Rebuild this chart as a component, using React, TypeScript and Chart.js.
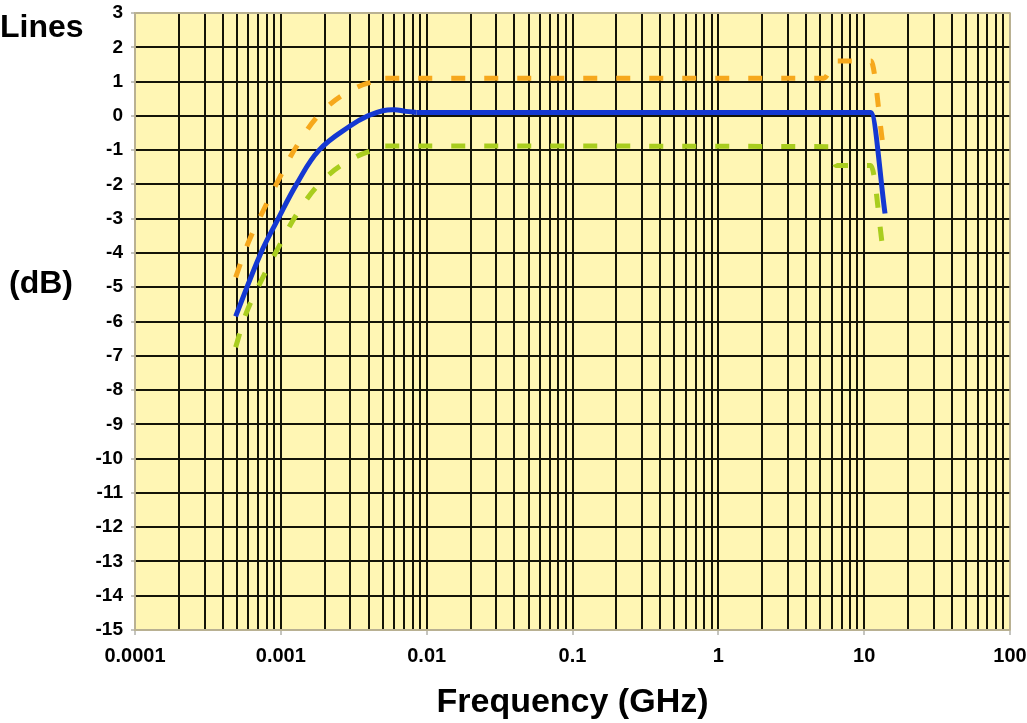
import { useEffect, useRef } from 'react';
import { Chart, registerables } from 'chart.js';

Chart.register(...registerables);

const FONT = "Arial, 'Liberation Sans', Helvetica, sans-serif";

// Frequency axis: decades carry labels, every 1..9 multiple gets a grid line
const decades = [0.0001, 0.001, 0.01, 0.1, 1, 10, 100];
const decadeLabels = ['0.0001', '0.001', '0.01', '0.1', '1', '10', '100'];
const minorSteps = [1, 2, 3, 4, 5, 6, 7, 8, 9];

// Level axis (dB)
const yMin = -15;
const yMax = 3;
const yStep = 1;

// Nominal response (solid blue)
const nominalFreq = [0.00049, 0.00073, 0.00096, 0.00128, 0.00183, 0.003, 0.00396, 0.005, 0.006, 0.0072, 0.0085, 11.1, 13.9];
const nominalDb = [-5.85, -4.0, -3.0, -2.0, -1.0, -0.29, 0.0, 0.15, 0.18, 0.13, 0.1, 0.1, -2.85];
const nominalArcEnd = 10;

// Upper limit (orange dashed)
const upperFreq = [0.00049, 0.00059, 0.000757, 0.00098, 0.0013, 0.00195, 0.0032, 0.0052, 5.3, 6.4, 11.1, 13.4];
const upperDb = [-4.71, -3.76, -2.77, -1.81, -0.85, 0.15, 0.8, 1.1, 1.1, 1.6, 1.6, -0.8];
const upperArcEnd = 7;

// Lower limit (green dashed)
const lowerFreq = [0.00049, 0.00058, 0.00074, 0.00098, 0.0013, 0.00195, 0.0032, 0.0052, 5.7, 6.4, 11.1, 13.4];
const lowerDb = [-6.75, -5.75, -4.78, -3.78, -2.84, -1.87, -1.22, -0.88, -0.9, -1.45, -1.45, -3.85];
const lowerArcEnd = 7;

const toPoints = (xs: number[], ys: number[]) => xs.map((x, i) => ({ x, y: ys[i] }));

const xGridValues = decades.flatMap((d, i) =>
  i === decades.length - 1 ? [d] : minorSteps.map((m) => Number((d * m).toPrecision(6)))
);

const decadeIndex = (v: number) =>
  decades.findIndex((d) => Math.abs(Math.log10(v) - Math.log10(d)) < 1e-6);

const GRID = '#141408';
const EDGE = '#b9b192';
const PLOT_BG = '#fff6b4';

// Each curve: a smooth low-frequency arc, then the plateau with its sharp knees
function curveDatasets(
  label: string,
  xs: number[],
  ys: number[],
  arcEnd: number,
  style: Record<string, unknown>
) {
  const pts = toPoints(xs, ys);
  const base = { pointRadius: 0, fill: false, borderCapStyle: 'butt', borderJoinStyle: 'round', ...style };
  return [
    { ...base, label: `${label} arc`, data: pts.slice(0, arcEnd + 1), tension: 0.4 },
    { ...base, label: `${label} plateau`, data: pts.slice(arcEnd), cubicInterpolationMode: 'monotone' },
  ];
}

const decorations = {
  id: 'decorations',
  beforeDraw(chart: any) {
    const { ctx, chartArea } = chart;
    ctx.save();
    ctx.fillStyle = '#ffffff';
    ctx.fillRect(0, 0, chart.width, chart.height);
    ctx.fillStyle = PLOT_BG;
    ctx.fillRect(chartArea.left, chartArea.top, chartArea.right - chartArea.left, chartArea.bottom - chartArea.top);
    ctx.restore();
  },
  afterDraw(chart: any) {
    const { ctx, chartArea } = chart;
    ctx.save();
    ctx.strokeStyle = EDGE;
    ctx.lineWidth = 1.5;
    ctx.strokeRect(chartArea.left, chartArea.top, chartArea.right - chartArea.left, chartArea.bottom - chartArea.top);
    ctx.fillStyle = '#000';
    ctx.textBaseline = 'alphabetic';
    ctx.textAlign = 'left';
    ctx.font = `bold 32px ${FONT}`;
    ctx.fillText('Lines', 0, 37);
    ctx.fillText('(dB)', 9, 293);
    ctx.textAlign = 'center';
    ctx.font = `bold 34px ${FONT}`;
    ctx.fillText('Frequency (GHz)', (chartArea.left + chartArea.right) / 2, 712);
    ctx.restore();
  },
};

export default function App() {
  const canvasRef = useRef<HTMLCanvasElement | null>(null);

  useEffect(() => {
    document.body.style.margin = '0';
    const canvas = canvasRef.current;
    if (!canvas) return;

    const dashed = { borderWidth: 5, borderDash: [14, 19] };

    const chart = new Chart(canvas, {
      type: 'line',
      data: {
        datasets: [
          ...curveDatasets('Upper', upperFreq, upperDb, upperArcEnd, { ...dashed, borderColor: '#f6a81c' }),
          ...curveDatasets('Lower', lowerFreq, lowerDb, lowerArcEnd, { ...dashed, borderColor: '#a9cd1e' }),
          ...curveDatasets('Nominal', nominalFreq, nominalDb, nominalArcEnd, { borderWidth: 5, borderColor: '#1438d2' }),
        ],
      },
      options: {
        responsive: false,
        animation: false,
        parsing: false,
        layout: { padding: { left: 0, right: 17, top: 13, bottom: 0 } },
        plugins: {
          legend: { display: false },
          tooltip: { enabled: false },
        },
        scales: {
          x: {
            type: 'logarithmic',
            min: decades[0],
            max: decades[decades.length - 1],
            afterBuildTicks: (scale: any) => {
              scale.ticks = xGridValues.map((value) => ({ value }));
            },
            afterFit: (scale: any) => {
              scale.height = 93;
              scale.paddingLeft = 0;
              scale.paddingRight = 0;
            },
            ticks: {
              autoSkip: false,
              maxRotation: 0,
              padding: 9,
              color: '#000',
              font: { family: FONT, size: 20, weight: 'bold' },
              callback: (value: any) => {
                const i = decadeIndex(Number(value));
                return i >= 0 ? decadeLabels[i] : '';
              },
            },
            grid: {
              lineWidth: 2,
              tickLength: 5,
              color: (ctx: any) => {
                const v = ctx.tick ? ctx.tick.value : 0;
                return v === decades[0] || v === decades[decades.length - 1] ? EDGE : GRID;
              },
              tickColor: (ctx: any) => {
                const v = ctx.tick ? ctx.tick.value : 0;
                return decadeIndex(v) >= 0 ? '#8a8a80' : 'rgba(0,0,0,0)';
              },
              tickWidth: 1,
            },
            border: { display: true, color: EDGE, width: 1.5 },
          },
          y: {
            type: 'linear',
            min: yMin,
            max: yMax,
            afterFit: (scale: any) => {
              scale.width = 135;
              scale.paddingTop = 0;
              scale.paddingBottom = 0;
            },
            ticks: {
              stepSize: yStep,
              padding: 8,
              color: '#000',
              font: { family: FONT, size: 19, weight: 'bold' },
            },
            grid: {
              lineWidth: 2,
              tickLength: 4,
              color: (ctx: any) => {
                const v = ctx.tick ? ctx.tick.value : 0;
                return v === yMin || v === yMax ? EDGE : GRID;
              },
              tickColor: '#8a8a80',
              tickWidth: 1,
            },
            border: { display: true, color: EDGE, width: 1.5 },
          },
        },
      },
      plugins: [decorations],
    } as any);

    return () => chart.destroy();
  }, []);

  return (
    <canvas
      ref={canvasRef}
      width={1027}
      height={723}
      style={{ display: 'block', width: '1027px', height: '723px' }}
    />
  );
}
